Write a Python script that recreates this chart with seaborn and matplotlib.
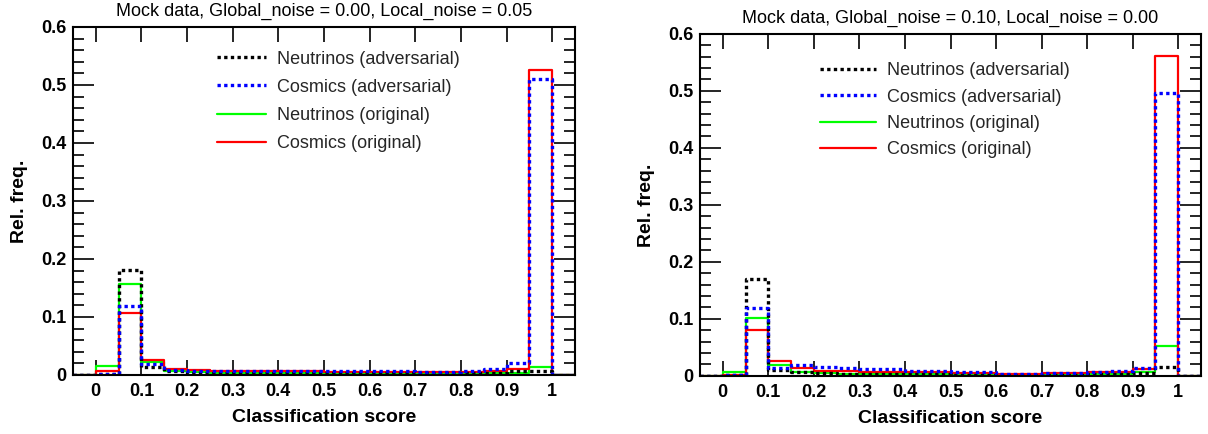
import numpy as np
import pandas as pd
import matplotlib
matplotlib.use("Agg")
import matplotlib.pyplot as plt
import seaborn as sns
from matplotlib.ticker import MultipleLocator, FuncFormatter

# bin edges of the classification score histograms (width 0.05)
edges = [round(-0.05 + 0.05 * i, 2) for i in range(23)]
centers = [round(e + 0.025, 3) for e in edges[:-1]]

# left panel: Global_noise = 0.00, Local_noise = 0.05
l_nu_adv = [0, 0.001, 0.181, 0.0145, 0.006, 0.004, 0.003, 0.003, 0.003, 0.003, 0.003,
            0.003, 0.003, 0.003, 0.003, 0.003, 0.003, 0.003, 0.004, 0.007, 0.0075, 0]
l_cos_adv = [0, 0.001, 0.119, 0.0185, 0.009, 0.007, 0.006, 0.006, 0.007, 0.0075, 0.007,
             0.0065, 0.006, 0.006, 0.006, 0.005, 0.005, 0.006, 0.01, 0.021, 0.51, 0]
l_nu_orig = [0, 0.0156, 0.157, 0.022, 0.0075, 0.005, 0.003, 0.003, 0.003, 0.003, 0.003,
             0.003, 0.003, 0.003, 0.003, 0.003, 0.003, 0.003, 0.003, 0.003, 0.0139, 0]
l_cos_orig = [0, 0.0075, 0.107, 0.025, 0.0104, 0.0087, 0.006, 0.006, 0.006, 0.006, 0.006,
              0.0055, 0.005, 0.005, 0.005, 0.005, 0.005, 0.005, 0.006, 0.0098, 0.525, 0]

# right panel: Global_noise = 0.10, Local_noise = 0.00
r_nu_adv = [0, 0.001, 0.170, 0.0105, 0.0076, 0.005, 0.004, 0.003, 0.003, 0.003, 0.003,
            0.002, 0.002, 0.002, 0.002, 0.002, 0.002, 0.003, 0.003, 0.005, 0.016, 0]
r_cos_adv = [0, 0.001, 0.119, 0.013, 0.019, 0.016, 0.013, 0.012, 0.0115, 0.009, 0.0085,
             0.006, 0.006, 0.004, 0.004, 0.005, 0.005, 0.007, 0.009, 0.0135, 0.497, 0]
r_nu_orig = [0, 0.0076, 0.101, 0.019, 0.006, 0.005, 0.004, 0.004, 0.003, 0.003, 0.003,
             0.002, 0.002, 0.002, 0.002, 0.002, 0.002, 0.003, 0.003, 0.0076, 0.053, 0]
r_cos_orig = [0, 0.001, 0.081, 0.026, 0.0135, 0.009, 0.009, 0.007, 0.007, 0.006, 0.006,
              0.005, 0.005, 0.004, 0.004, 0.005, 0.005, 0.0065, 0.0065, 0.012, 0.561, 0]

labels = ["Neutrinos (adversarial)", "Cosmics (adversarial)",
          "Neutrinos (original)", "Cosmics (original)"]
titles = ["Mock data, Global_noise = 0.00, Local_noise = 0.05",
          "Mock data, Global_noise = 0.10, Local_noise = 0.00"]

sns.set_style("ticks")
plt.rcParams['font.family'] = ['Liberation Sans', 'DejaVu Sans']

fig = plt.figure(figsize=(12.08, 4.34), dpi=100)
ax_l = fig.add_axes([0.0604, 0.136, 0.4156, 0.802])
ax_r = fig.add_axes([0.5795, 0.134, 0.4147, 0.788])

dot = (0, (1, 1))
# drawing order: originals underneath, adversarial dotted on top
styles = {
    labels[2]: dict(color="#00ff00", linestyle="-", linewidth=1.6),
    labels[3]: dict(color="#ff0000", linestyle="-", linewidth=1.6),
    labels[0]: dict(color="black", linestyle=dot, linewidth=2.4),
    labels[1]: dict(color="#0000ff", linestyle=dot, linewidth=2.4),
}

panels = [
    (ax_l, [l_nu_adv, l_cos_adv, l_nu_orig, l_cos_orig], titles[0], (0.287, 0.932), 0.62, 2.7),
    (ax_r, [r_nu_adv, r_cos_adv, r_nu_orig, r_cos_orig], titles[1], (0.24, 0.917), 0.52, 3.1),
]

for ax, series, title, anchor, lspace, hlen in panels:
    df = pd.DataFrame({"score": np.tile(centers, 4),
                       "freq": np.concatenate(series),
                       "sample": np.repeat(labels, len(centers))})
    handles = {}
    for lab in [labels[2], labels[3], labels[0], labels[1]]:
        sub = df[df["sample"] == lab].reset_index(drop=True)
        sns.histplot(data=sub, x="score", weights="freq", bins=edges, element="step",
                     fill=False, ax=ax, **styles[lab])
        handles[lab] = ax.lines[-1]
    ax.set_xlim(-0.05, 1.05)
    ax.set_ylim(0, 0.6)
    ax.xaxis.set_major_locator(MultipleLocator(0.1))
    ax.yaxis.set_major_locator(MultipleLocator(0.1))
    ax.yaxis.set_minor_locator(MultipleLocator(0.02))
    fmt = FuncFormatter(lambda v, p: "%g" % round(v, 2))
    ax.xaxis.set_major_formatter(fmt)
    ax.yaxis.set_major_formatter(fmt)
    ax.tick_params(axis="both", which="both", direction="in", top=True, right=True,
                   labelsize=13, width=1.2, color="black", labelcolor="black")
    ax.tick_params(axis="x", which="major", length=11, pad=6)
    ax.tick_params(axis="y", which="major", length=15, pad=5)
    ax.tick_params(axis="y", which="minor", length=8)
    for t in ax.get_xticklabels() + ax.get_yticklabels():
        t.set_fontweight("bold")
    for sp in ax.spines.values():
        sp.set_linewidth(1.5)
        sp.set_color("black")
    ax.set_xlabel("Classification score", fontsize=14, fontweight="bold", labelpad=6,
                  color="black")
    ax.set_ylabel("Rel. freq.", fontsize=14, fontweight="bold", labelpad=9, color="black")
    ax.set_title(title, fontsize=13, pad=8, color="black")
    ax.legend([handles[l] for l in labels], labels, loc="upper left", bbox_to_anchor=anchor,
              frameon=False, fontsize=13, borderpad=0, borderaxespad=0,
              handlelength=hlen, handletextpad=0.6, labelspacing=lspace)

fig.savefig("out.png", dpi=100)
